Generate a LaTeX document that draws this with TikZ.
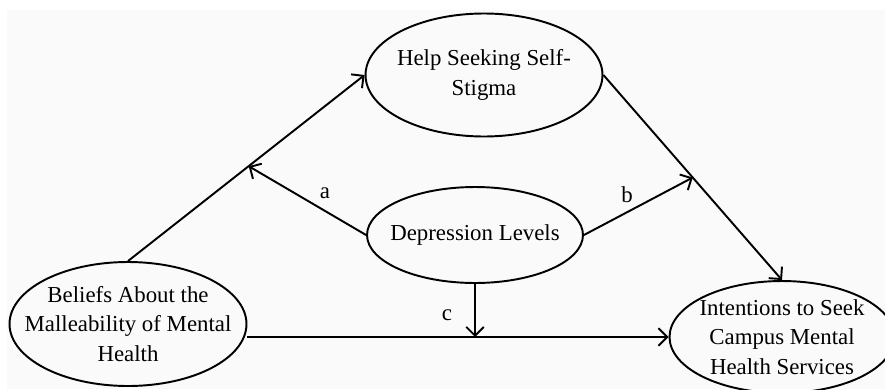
\documentclass[tikz,border=0pt]{standalone}
\usepackage{fontspec}
\setmainfont{Liberation Serif}
\usetikzlibrary{shapes.geometric,arrows.meta}
\definecolor{paper}{RGB}{250,250,250}
\tikzset{
  var/.style={draw,ellipse,line width=1.1pt,align=center,inner sep=-0.6cm,
    font=\fontsize{13}{16.8}\selectfont},
  link/.style={line width=1.1pt},
  lab/.style={font=\fontsize{13}{16.8}\selectfont},
}
\begin{document}
\begin{tikzpicture}[x=0.02cm,y=-0.02cm,>={Straight Barb[length=5pt,width=10pt]}]
  \useasboundingbox (0,0) rectangle (885,389);
  \fill[paper] (7,10) rectangle (885,389);
  % variables
  \node[var,minimum width=4.74cm,minimum height=2.48cm] (beliefs) at (128,324) {Beliefs About the\\Malleability of Mental\\Health};
  \node[var,minimum width=4.74cm,minimum height=2.46cm] (stigma) at (484,75) {Help Seeking Self-\\Stigma};
  \node[var,minimum width=4.32cm,minimum height=1.92cm] (depression) at (475,235) {Depression Levels};
  \node[var,minimum width=4.5cm,minimum height=2.24cm] (intentions) at (782,337) {Intentions to Seek\\Campus Mental\\Health Services};
  % paths
  \draw[link,->] (beliefs.north) -- coordinate[pos=0.51] (ja) (stigma.west);
  \draw[link,->] (stigma.east) -- coordinate[pos=0.5] (jb) (intentions.north);
  \draw[link,->] (beliefs.east |- intentions.west) -- (intentions.west);
  \coordinate (jc) at (depression.south |- intentions.west);
  % moderation
  \draw[link,->] (depression.west) -- (ja);
  \draw[link,->] (depression.east) -- (jb);
  \draw[link,->] (depression.south) -- (jc);
  \node[lab] (laba) at (325,193) {a};
  \node[lab] (labb) at (627,195) {b};
  \node[lab] (labc) at (447,315) {c};
\end{tikzpicture}
\end{document}
